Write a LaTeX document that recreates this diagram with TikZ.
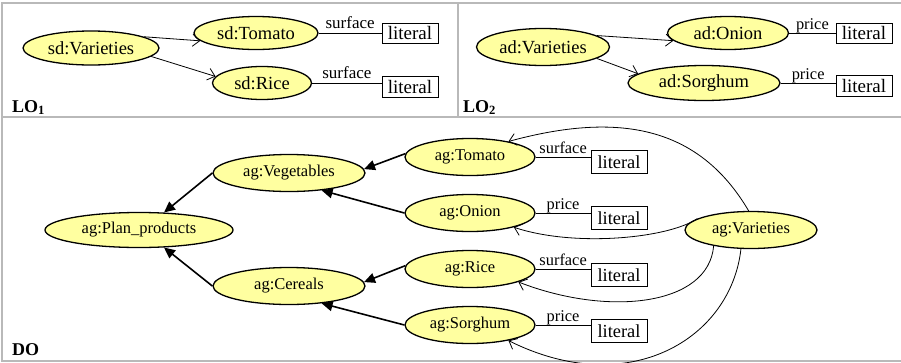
\documentclass[tikz,border=0pt]{standalone}
\usepackage{fontspec}
\setmainfont{Liberation Serif}
\usetikzlibrary{shapes.geometric,arrows.meta}
\definecolor{entfill}{RGB}{255,255,160}
\definecolor{framegray}{RGB}{185,185,185}
\begin{document}
\begin{tikzpicture}[x=1pt,y=-1pt,
  ent/.style={ellipse, draw, line width=1.3pt, fill=entfill, inner sep=0pt},
  topent/.style={ent, font=\fontsize{18.5}{20}\selectfont, minimum height=34pt},
  doent/.style={ent, font=\fontsize{16.5}{18}\selectfont, minimum height=37pt},
  toplit/.style={draw, line width=0.8pt, minimum width=56pt, minimum height=20pt, inner sep=0pt, font=\fontsize{19}{20}\selectfont},
  dolit/.style={draw, line width=0.8pt, minimum width=56pt, minimum height=23pt, inner sep=0pt, font=\fontsize{18.4}{20}\selectfont},
  propline/.style={line width=0.8pt},
  toplab/.style={above, inner sep=1.5pt, text depth=0.25em, font=\fontsize{17}{18}\selectfont},
  dolab/.style={above, inner sep=1pt, text depth=0.25em, font=\fontsize{16.4}{18}\selectfont},
  openarr/.style={line width=0.8pt, -{Straight Barb[length=7pt,width=12pt,line width=0.8pt]}},
  subarr/.style={line width=1.6pt, -{Triangle[length=11pt,width=10pt]}},
  panel/.style={anchor=base west, inner sep=0pt, font=\bfseries\fontsize{18}{20}\selectfont}
]
\useasboundingbox (0,0) rectangle (901,362);
% frame
\draw[framegray, line width=1.5pt] (901,3) -- (2,3) -- (2,361) -- (901,361);
\draw[framegray, line width=1.5pt] (2,117) -- (901,117);
\draw[framegray, line width=1.5pt] (458,3) -- (458,117);

% ---------------- LO1
\node[topent, minimum width=136pt] (sdV) at (91,48) {sd:Varieties};
\node[topent, minimum width=124pt, minimum height=33pt] (sdT) at (256,33) {sd:Tomato};
\node[topent, minimum width=99pt, minimum height=33pt] (sdR) at (262,83) {sd:Rice};
\node[toplit] (l1) at (410,33) {literal};
\node[toplit, minimum height=21pt] (l2) at (410,87) {literal};
\draw[openarr] (sdV.12) -- (sdT.188);
\draw[openarr] (sdV.-8) -- (sdR.172);
\draw[propline] (sdT.east) -- node[toplab] {surface} (sdT.east -| l1.west);
\draw[propline] (sdR.east) -- node[toplab] {surface} (sdR.east -| l2.west);
\node[panel] (lo1) at (12,112) {LO\textsubscript{1}};

% ---------------- LO2
\node[topent, minimum width=133pt, minimum height=37pt] (adV) at (543,47) {ad:Varieties};
\node[topent, minimum width=121pt, minimum height=33pt] (adO) at (728,33) {ad:Onion};
\node[topent, minimum width=152pt, minimum height=35pt] (adS) at (704,83) {ad:Sorghum};
\node[toplit] (l3) at (864,33) {literal};
\node[toplit, minimum height=21pt] (l4) at (864,86) {literal};
\draw[openarr] (adV.12) -- (adO.188);
\draw[openarr] (adV.-12) -- (adS.172);
\draw[propline] (adO.east) -- node[dolab] {price} (adO.east -| l3.west);
\draw[propline] (adS.east) -- node[dolab] {price} (adS.east -| l4.west);
\node[panel] (lo2) at (463,112) {LO\textsubscript{2}};

% ---------------- DO
\node[doent, minimum width=188pt, minimum height=35pt] (agP) at (139,230) {ag:Plan\_products};
\node[doent, minimum width=152pt] (agVeg) at (289,173) {ag:Vegetables};
\node[doent, minimum width=152pt] (agC) at (289,286) {ag:Cereals};
\node[doent, minimum width=130pt] (agT) at (470,157) {ag:Tomato};
\node[doent, minimum width=130pt] (agO) at (470,213) {ag:Onion};
\node[doent, minimum width=130pt] (agR) at (470,269) {ag:Rice};
\node[doent, minimum width=130pt] (agS) at (470,325) {ag:Sorghum};
\node[doent, minimum width=132pt] (agV) at (751,230) {ag:Varieties};
\node[dolit] (m1) at (619,162) {literal};
\node[dolit] (m2) at (619,218) {literal};
\node[dolit] (m3) at (619,275) {literal};
\node[dolit] (m4) at (619,331) {literal};
\draw[propline] (agT.east) -- node[dolab] {surface} (agT.east -| m1.west);
\draw[propline] (agO.east) -- node[dolab] {price} (agO.east -| m2.west);
\draw[propline] (agR.east) -- node[dolab] {surface} (agR.east -| m3.west);
\draw[propline] (agS.east) -- node[dolab] {price} (agS.east -| m4.west);

\draw[subarr] (agT.177) -- (agVeg.3);
\draw[subarr] (agO.west) -- (agVeg.-28);
\draw[subarr] (agR.177) -- (agC.3);
\draw[subarr] (agS.west) -- (agC.-28);
\draw[subarr] (agVeg.west) -- (agP.35);
\draw[subarr] (agC.west) -- (agP.-35);

\draw[openarr] (agV.97) .. controls +(-50,-85) and +(110,-30) .. (agT.22);
\draw[openarr] (agV.168) .. controls +(-30,20) and +(60,20) .. (agO.-18);
\draw[openarr] (agV.203) .. controls +(-5,60) and +(90,35) .. (agR.-15);
\draw[openarr] (agV.-118) .. controls +(-10,90) and +(120,60) .. (agS.-22);

\node[panel] (do) at (12,355) {DO};
\end{tikzpicture}
\end{document}
